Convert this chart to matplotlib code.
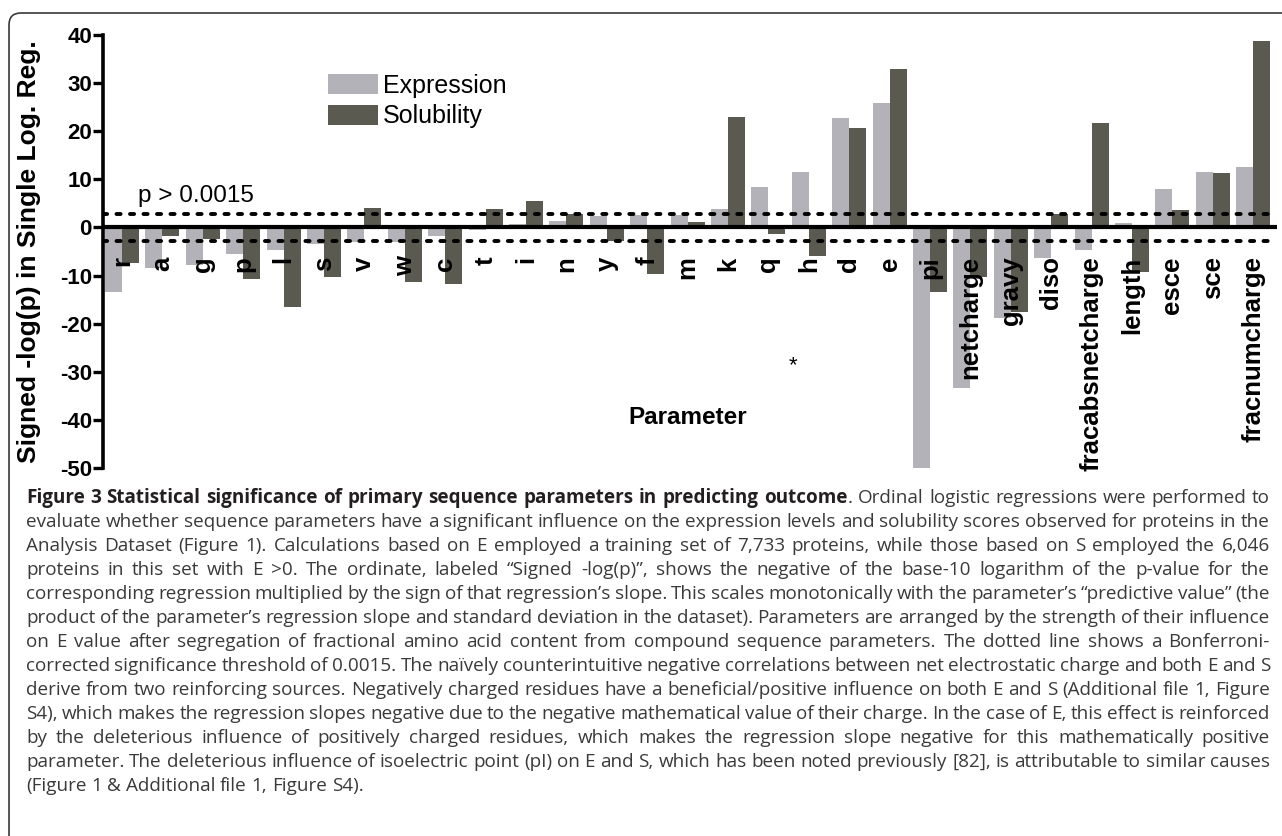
import matplotlib
matplotlib.use('Agg')
import matplotlib.pyplot as plt
import numpy as np
from matplotlib.patches import Patch, FancyBboxPatch
from matplotlib.transforms import IdentityTransform

plt.rcParams['font.family'] = 'Liberation Sans'
plt.rcParams['axes.unicode_minus'] = False

# Parameters in order of their influence on E
categories = ['r', 'a', 'g', 'p', 'l', 's', 'v', 'w', 'c', 't', 'i', 'n', 'y', 'f', 'm',
              'k', 'q', 'h', 'd', 'e', 'pi', 'netcharge', 'gravy', 'diso',
              'fracabsnetcharge', 'length', 'esce', 'sce', 'fracnumcharge']
expression = [-13.5, -8.5, -7.9, -5.6, -4.7, -3.5, -3.1, -3.1, -1.8, -0.5,
              0.8, 1.4, 2.3, 2.5, 2.5, 3.9, 8.5, 11.5, 22.7, 25.8,
              -50.5, -33.4, -18.9, -6.3, -4.7, 0.9, 7.9, 11.5, 12.6]
solubility = [-7.3, -1.7, -2.3, -10.8, -16.6, -10.4, 4.1, -11.4, -11.8, 3.9,
              5.6, 2.7, -2.9, -9.7, 1.1, 23.0, -1.4, -6.0, 20.6, 32.9,
              -13.5, -10.4, -17.5, 2.8, 21.8, -9.2, 3.6, 11.3, 38.8]
threshold = -np.log10(0.0015)

caption_bold = 'Figure 3 Statistical significance of primary sequence parameters in predicting outcome'
caption_lines = [
    'Figure 3 Statistical significance of primary sequence parameters in predicting outcome. Ordinal logistic regressions were performed to',
    'evaluate whether sequence parameters have a significant influence on the expression levels and solubility scores observed for proteins in the',
    'Analysis Dataset (Figure 1). Calculations based on E employed a training set of 7,733 proteins, while those based on S employed the 6,046',
    'proteins in this set with E >0. The ordinate, labeled \u201cSigned -log(p)\u201d, shows the negative of the base-10 logarithm of the p-value for the',
    'corresponding regression multiplied by the sign of that regression\u2019s slope. This scales monotonically with the parameter\u2019s \u201cpredictive value\u201d (the',
    'product of the parameter\u2019s regression slope and standard deviation in the dataset). Parameters are arranged by the strength of their influence',
    'on E value after segregation of fractional amino acid content from compound sequence parameters. The dotted line shows a Bonferroni-',
    'corrected significance threshold of 0.0015. The na\u00efvely counterintuitive negative correlations between net electrostatic charge and both E and S',
    'derive from two reinforcing sources. Negatively charged residues have a beneficial/positive influence on both E and S (Additional file 1, Figure',
    'S4), which makes the regression slopes negative due to the negative mathematical value of their charge. In the case of E, this effect is reinforced',
    'by the deleterious influence of positively charged residues, which makes the regression slope negative for this mathematically positive',
    'parameter. The deleterious influence of isoelectric point (pI) on E and S, which has been noted previously [82], is attributable to similar causes',
    '(Figure 1 & Additional file 1, Figure S4).',
]

W, H = 1282, 836
fig = plt.figure(figsize=(W / 100, H / 100), dpi=100)
ax = fig.add_axes([103 / W, 1 - 468 / H, (1277 - 103) / W, (468 - 35) / H])

x = np.arange(len(categories))
bw = 0.42
ax.bar(x - bw / 2, expression, bw, color='#b4b2b9', label='Expression', zorder=2)
ax.bar(x + bw / 2, solubility, bw, color='#5b5a51', label='Solubility', zorder=2)

ax.axhline(0, color='black', lw=3.0, zorder=3)
for yy in (threshold, -threshold):
    ax.axhline(yy, color='black', lw=2.8, linestyle=(0, (1.06, 2.41)),
               dash_capstyle='round', zorder=4)

ax.set_xlim(-0.47, 28.59)
ax.set_ylim(-50, 40)
ax.set_yticks(range(-50, 41, 10))
ax.set_xticks([])
for s in ('top', 'right', 'bottom'):
    ax.spines[s].set_visible(False)
ax.spines['left'].set_linewidth(2.6)
ax.tick_params(axis='y', direction='out', length=7, width=2.4, pad=1, labelsize=16)
for lbl in ax.get_yticklabels():
    lbl.set_fontweight('bold')

ax.set_ylabel('Signed -log(p) in Single Log. Reg.', fontsize=19, fontweight='bold')
ax.yaxis.set_label_coords(-0.053, 0.5)

# category names sit just under the zero line, reading upwards
for xi, name in zip(x, categories):
    t = ax.text(xi, -6.0, name, rotation=90, ha='center', va='top',
                fontsize=18.5, fontweight='bold', zorder=5)
    t.set_clip_on(False)

ax.text(0.40, 5.3, 'p > 0.0015', fontsize=17.5, va='baseline', ha='left')
ax.text(14.0, -39.6, 'Parameter', fontsize=17.5, fontweight='bold', ha='center', va='center')
ax.text(16.6, -28.8, '*', fontsize=16, ha='center', va='center')

handles = [Patch(facecolor='#b4b2b9', label='Expression'),
           Patch(facecolor='#5b5a51', label='Solubility')]
fig.legend(handles=handles, loc='upper left', bbox_to_anchor=(328 / W, 1 - 74 / H),
           frameon=False, fontsize=18, handlelength=2.0, handleheight=0.85,
           handletextpad=0.2, labelspacing=0.25, borderpad=0, borderaxespad=0)

# rounded frame around figure and caption
frame = FancyBboxPatch((9, -30), 1320, H - 13 + 30, boxstyle='round,pad=0,rounding_size=12',
                       transform=IdentityTransform(), fill=False, ec='#3a3a3a', lw=1.2)
fig.add_artist(frame)

# caption, justified line by line
cap_font = 'Open Sans'
cap_size = 13.6
cap_color = '#3a3a3a'
left, right = 26, 1270
top_y, step = 498, 24.0
renderer = fig.canvas.get_renderer()
bold_words = caption_bold.split()


def seg_width(text, weight):
    t = fig.text(0, 0, text, fontsize=cap_size, family=cap_font, fontweight=weight)
    w = t.get_window_extent(renderer).width
    t.remove()
    return w


space_w = seg_width('a a', 'normal') - 2 * seg_width('a', 'normal')

for li, line in enumerate(caption_lines):
    tokens = []
    for wi, word in enumerate(line.split(' ')):
        if li == 0 and wi < len(bold_words):
            bw_word = bold_words[wi]
            segs = [(bw_word, 'bold')]
            if len(word) > len(bw_word):
                segs.append((word[len(bw_word):], 'normal'))
        else:
            segs = [(word, 'normal')]
        tokens.append(segs)
    widths = [[seg_width(t, wt) for t, wt in segs] for segs in tokens]
    total = sum(sum(w) for w in widths)
    if li < len(caption_lines) - 1:
        gap = max((right - left - total) / (len(tokens) - 1), 0.5 * space_w)
    else:
        gap = space_w
    px = left
    py = H - (top_y + li * step)
    for segs, ws in zip(tokens, widths):
        for (t, wt), w in zip(segs, ws):
            fig.text(px / W, py / H, t, fontsize=cap_size, family=cap_font, fontweight=wt,
                     color='#231f20' if wt == 'bold' else cap_color, va='center', ha='left')
            px += w
        px += gap

fig.savefig('out.png', dpi=100)
